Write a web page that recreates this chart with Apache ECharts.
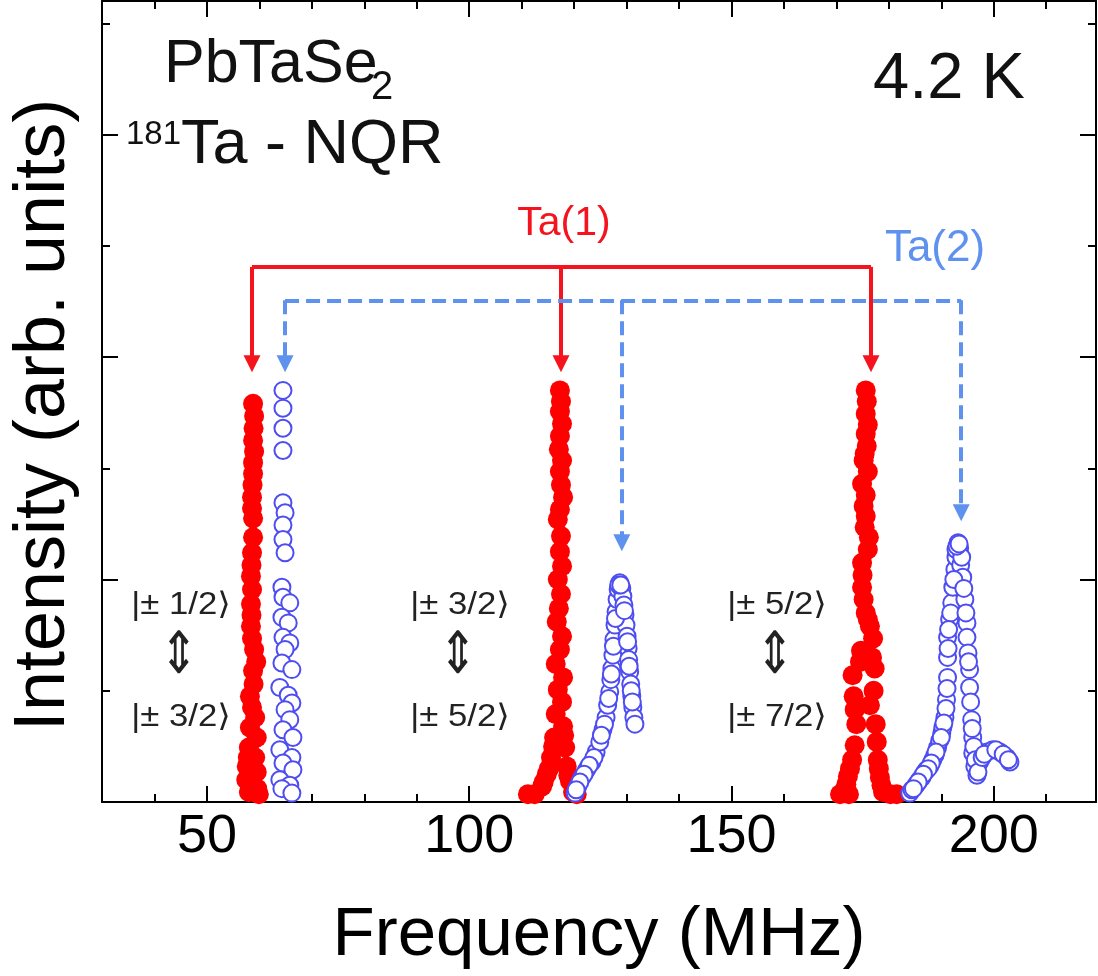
<!DOCTYPE html>
<html>
<head>
<meta charset="utf-8">
<script src="https://cdn.jsdelivr.net/npm/echarts@6/dist/echarts.min.js"></script>
<style>
html,body{margin:0;padding:0;background:#fff;}
#chart{width:1098px;height:976px;}
</style>
</head>
<body>
<div id="chart"></div>
<script>
// ---------------- data ----------------
// Ta(1) site, filled red circles : [frequency MHz, intensity arb.u.]
const ta1Peak1 = [[58.8,3.58],[59.0,3.47],[58.8,3.25],[59.0,3.15],[58.8,3.05],[58.8,2.95],[58.6,2.74],[58.6,2.64],[58.8,2.55],[58.8,2.38],[58.6,2.24],[58.4,2.03],[58.6,1.91],[58.4,1.78],[58.4,1.58],[58.6,1.47],[59.0,1.37],[59.4,1.26],[58.8,1.18],[58.2,0.95],[58.6,0.85],[59.2,0.76],[58.2,0.67],[59.5,0.58],[58.0,0.49],[59.2,0.40],[57.6,0.32],[59.5,0.27],[57.5,0.20],[59.0,0.14],[58.0,0.09],[59.9,0.07],[58.9,3.36],[58.7,2.85],[58.5,2.13],[58.5,1.68],[58.9,1.06],[57.8,0.40],[59.6,0.12]];
const ta1Peak2 = [[117.3,3.70],[117.5,3.60],[117.3,3.51],[117.7,3.40],[117.3,3.29],[117.1,3.17],[117.7,3.07],[117.3,2.97],[117.5,2.85],[117.9,2.74],[117.3,2.63],[116.9,2.54],[117.5,2.39],[117.3,2.25],[117.7,2.12],[116.9,2.00],[117.5,1.87],[117.1,1.74],[116.7,1.62],[117.7,1.49],[117.3,1.37],[116.5,1.24],[117.9,1.12],[116.9,1.01],[117.7,0.90],[116.5,0.79],[117.9,0.68],[116.2,0.58],[118.3,0.49],[115.6,0.40],[118.6,0.32],[114.8,0.25],[119.2,0.19],[113.9,0.14],[119.8,0.09],[112.5,0.07],[120.5,0.07],[111.2,0.07],[115.2,0.30],[114.2,0.18],[118.9,0.24],[116.0,0.50],[118.1,0.60]];
const ta1Peak3 = [[175.6,3.70],[175.8,3.60],[175.6,3.49],[176.0,3.39],[175.6,3.31],[175.8,3.20],[175.4,3.13],[175.2,3.07],[176.0,2.97],[174.9,2.86],[175.6,2.76],[175.2,2.66],[175.6,2.57],[175.4,2.47],[176.2,2.38],[176.0,2.27],[174.9,2.15],[175.0,2.04],[174.9,1.93],[175.2,1.82],[175.6,1.70],[176.0,1.64],[176.4,1.58],[177.0,1.47],[174.7,1.36],[176.8,1.30],[174.5,1.26],[177.3,1.20],[173.1,1.14],[177.1,1.00],[173.3,0.95],[176.4,0.87],[173.5,0.83],[173.8,0.70],[177.5,0.70],[177.7,0.54],[173.5,0.51],[173.0,0.38],[177.9,0.38],[172.6,0.30],[178.1,0.30],[172.2,0.23],[178.3,0.22],[171.9,0.16],[178.6,0.15],[171.6,0.11],[178.9,0.09],[172.4,0.07],[180.3,0.07],[181.5,0.07],[170.7,0.07]];
// Ta(2) site, open blue circles
const ta2Peak1 = [[64.5,3.70],[64.5,3.54],[64.5,3.36],[64.5,3.16],[64.5,2.69],[64.9,2.60],[64.5,2.49],[64.5,2.36],[64.9,2.24],[64.3,1.93],[64.5,1.84],[65.8,1.79],[64.3,1.66],[65.5,1.61],[64.5,1.48],[65.8,1.43],[64.9,1.37],[64.3,1.25],[66.2,1.19],[63.9,1.03],[65.5,0.96],[66.2,0.89],[64.9,0.83],[65.8,0.74],[64.5,0.65],[66.4,0.58],[63.9,0.47],[66.2,0.40],[64.5,0.35],[66.4,0.29],[63.9,0.20],[65.8,0.15],[64.3,0.12],[66.2,0.08]];
const ta2Peak2 = [[120.2,0.08],[120.7,0.14],[121.5,0.22],[122.4,0.29],[123.4,0.36],[124.2,0.45],[124.9,0.54],[125.5,0.65],[126.1,0.76],[126.4,0.87],[126.8,0.99],[127.0,1.10],[127.2,1.20],[127.4,1.32],[127.6,1.46],[127.8,1.59],[128.0,1.71],[128.2,1.82],[128.4,1.91],[128.7,1.97],[129.1,1.92],[129.3,1.85],[129.5,1.77],[129.7,1.68],[129.9,1.59],[130.1,1.49],[130.3,1.38],[130.4,1.28],[130.6,1.17],[130.8,1.06],[131.0,0.95],[131.2,0.85],[131.4,0.76],[131.6,0.70],[128.5,1.95],[128.9,1.95],[127.9,1.65],[129.6,1.72],[127.5,1.40],[130.2,1.44],[127.1,1.15],[130.5,1.22],[126.6,0.93],[130.9,1.00],[125.8,0.70],[131.1,0.90],[125.2,0.60],[123.8,0.40],[122.9,0.33],[121.9,0.25],[121.1,0.18],[120.4,0.11]];
const ta2Peak3 = [[184.0,0.08],[184.4,0.11],[185.0,0.14],[185.3,0.16],[185.9,0.20],[186.3,0.22],[186.9,0.27],[187.2,0.29],[187.8,0.32],[188.4,0.38],[188.8,0.42],[189.3,0.49],[189.7,0.55],[190.1,0.62],[190.3,0.67],[190.7,0.76],[191.0,0.92],[191.2,1.12],[191.2,1.30],[191.2,1.48],[191.6,1.64],[192.0,1.79],[192.2,1.93],[192.6,2.09],[192.8,2.20],[192.8,2.27],[193.2,2.33],[193.5,2.28],[193.7,2.13],[193.9,2.20],[194.1,2.02],[194.5,1.82],[194.9,1.61],[194.9,1.48],[195.1,1.34],[195.4,1.19],[195.4,1.03],[195.8,0.74],[196.0,0.58],[196.0,0.44],[196.4,0.32],[196.8,0.24],[197.3,0.36],[198.7,0.45],[199.8,0.47],[201.2,0.45],[202.5,0.40],[203.1,0.36],[193.0,2.30],[193.4,2.32],[192.4,2.00],[194.3,1.92],[191.8,1.70],[194.7,1.70],[191.4,1.55],[191.3,1.38],[195.2,1.26],[191.1,1.02],[195.6,0.90],[190.9,0.84],[195.9,0.66],[190.5,0.71],[196.2,0.50],[190.0,0.58],[196.5,0.38],[197.0,0.27],[197.8,0.40],[198.2,0.43],[200.4,0.47],[201.8,0.43],[202.8,0.38],[189.0,0.45],[188.1,0.35],[187.5,0.30],[186.6,0.25],[185.6,0.18],[184.7,0.12]];

// transition-marker brackets (frequency of each arrow, bar level, arrow-head level)
const ta1ArrowFreq = [58.6, 117.5, 176.6];
const ta1BarLevel = 4.81;
const ta1ArrowTip = [3.94, 3.94, 3.94];
const ta2ArrowFreq = [64.9, 129.1, 193.8];
const ta2BarLevel = 4.51;
const ta2ArrowTip = [3.94, 2.33, 2.60];

// axis ticks / labels
const xRange = [30, 219.5];
const yRange = [0, 7.2];
const xMajorTicks = [50, 100, 150, 200];
const xMinorTicks = [40, 60, 70, 80, 90, 110, 120, 130, 140, 160, 170, 180, 190, 210];
const yMajorTicks = [2, 4, 6];
const yMinorTicks = [1, 3, 5, 7];

// annotation texts
const transitionUpper = ['|\u00B1 1/2\u27E9', '|\u00B1 3/2\u27E9', '|\u00B1 5/2\u27E9'];
const transitionLower = ['|\u00B1 3/2\u27E9', '|\u00B1 5/2\u27E9', '|\u00B1 7/2\u27E9'];

// ---------------- chart ----------------
const FONT = "'Liberation Sans', Arial, Helvetica, sans-serif";
const SYMFONT = "'Liberation Sans', 'DejaVu Sans', sans-serif";
const RED = '#F5141E';
const BLUE_LINE = '#5F92EE';
const BLUE_PT = '#4D4DF2';

function bracket(freqs, bar, tips) {
  const d = [[{coord:[freqs[0], bar]}, {coord:[freqs[freqs.length-1], bar]}]];
  freqs.forEach((f, i) => {
    d.push([{coord:[f, bar]}, {coord:[f, tips[i]], symbol:'triangle', symbolSize:[17,17]}]);
  });
  return d;
}

function xAxis(pos, ticks, len, showLine, labels) {
  return {
    type:'value', gridIndex:0, position:pos, min:xRange[0], max:xRange[1], interval:10,
    axisLine:{show:showLine, onZero:false, lineStyle:{color:'#000', width:2}},
    axisTick:{show:true, inside:true, length:len, customValues:ticks, lineStyle:{color:'#000', width:2}},
    axisLabel: labels ? {show:true, customValues:xMajorTicks, margin:8, fontSize:54, color:'#000', fontFamily:FONT} : {show:false},
    splitLine:{show:false}
  };
}
function yAxis(pos, ticks, len, showLine) {
  return {
    type:'value', gridIndex:0, position:pos, min:yRange[0], max:yRange[1], interval:1,
    axisLine:{show:showLine, onZero:false, lineStyle:{color:'#000', width:2}},
    axisTick:{show:true, inside:true, length:len, customValues:ticks, lineStyle:{color:'#000', width:2}},
    axisLabel:{show:false},
    splitLine:{show:false}
  };
}

const xAxes = [
  xAxis('bottom', xMajorTicks, 16, true, true),
  xAxis('bottom', xMinorTicks, 8, false, false),
  xAxis('top', xMajorTicks, 16, true, false),
  xAxis('top', xMinorTicks, 8, false, false)
];
xAxes[0].name = 'Frequency (MHz)';
xAxes[0].nameLocation = 'middle';
xAxes[0].nameGap = 99;
xAxes[0].nameTextStyle = {fontSize:69, color:'#000', fontFamily:FONT};

const yAxes = [
  yAxis('left', yMajorTicks, 16, true),
  yAxis('left', yMinorTicks, 8, false),
  yAxis('right', yMajorTicks, 16, true),
  yAxis('right', yMinorTicks, 8, false)
];

function txt(text, x, y, font, color, align, sx) {
  return {
    type:'text', silent:true, z:100, x:x, y:y, scaleX:sx||1,
    style:{text:text, x:0, y:0, font:font, fill:color||'#111',
      align:align||'left', verticalAlign:'middle', textAlign:align||'left', textVerticalAlign:'middle'}
  };
}

const graphics = [
  txt('PbTaSe', 164, 65, '61px ' + FONT),
  txt('2', 371, 88, '40px ' + FONT),
  txt('181', 126, 135, '33px ' + FONT),
  txt('Ta - NQR', 181, 146, '63px ' + FONT),
  txt('4.2 K', 949, 80, '65px ' + FONT, '#111', 'center'),
  txt('Ta(1)', 564, 224, '41px ' + FONT, RED, 'center'),
  txt('Ta(2)', 935, 249, '44px ' + FONT, BLUE_LINE, 'center'),
  {type:'text', silent:true, x:44, y:415, rotation:Math.PI/2,
   style:{text:'Intensity (arb. units)', x:0, y:0, font:'72px ' + FONT, fill:'#000',
     align:'center', verticalAlign:'middle', textAlign:'center', textVerticalAlign:'middle'}}
];
const tCols = [181, 460, 777];
tCols.forEach((cx, i) => {
  graphics.push(txt(transitionUpper[i], cx, 605, '31px ' + SYMFONT, '#222', 'center', 1.12));
  graphics.push(txt('\u21D5', cx - 2, 658, "58px 'DejaVu Sans', sans-serif", '#222', 'center', 0.8));
  graphics.push(txt(transitionLower[i], cx, 717, '31px ' + SYMFONT, '#222', 'center', 1.12));
});

const chart = echarts.init(document.getElementById('chart'), null, {renderer:'canvas'});
chart.setOption({
  animation:false,
  backgroundColor:'#fff',
  grid:{left:102, right:2, top:1, bottom:174, containLabel:false},
  xAxis: xAxes,
  yAxis: yAxes,
  graphic: graphics,
  series:[
    {
      type:'scatter', name:'Ta(1)', xAxisIndex:0, yAxisIndex:0,
      symbol:'circle', symbolSize:20,
      itemStyle:{color:'#FF0000', opacity:1},
      data: ta1Peak1.concat(ta1Peak2, ta1Peak3),
      markLine:{silent:true, animation:false, symbol:['none','none'], label:{show:false},
        lineStyle:{color:RED, width:4, type:'solid'}, emphasis:{disabled:true},
        data: bracket(ta1ArrowFreq, ta1BarLevel, ta1ArrowTip)}
    },
    {
      type:'scatter', name:'Ta(2)', xAxisIndex:0, yAxisIndex:0,
      symbol:'circle', symbolSize:17,
      itemStyle:{color:'#FFFFFF', borderColor:BLUE_PT, borderWidth:2, opacity:1},
      data: ta2Peak1.concat(ta2Peak2, ta2Peak3),
      markLine:{silent:true, animation:false, symbol:['none','none'], label:{show:false},
        lineStyle:{color:BLUE_LINE, width:4, type:[14,7]}, emphasis:{disabled:true},
        data: bracket(ta2ArrowFreq, ta2BarLevel, ta2ArrowTip)}
    }
  ]
});
</script>
</body>
</html>
